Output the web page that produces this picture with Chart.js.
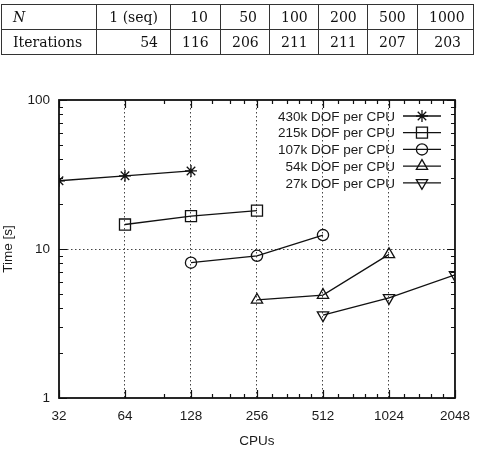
<!DOCTYPE html>
<html>
<head>
<meta charset="utf-8">
<script src="https://cdn.jsdelivr.net/npm/chart.js@4/dist/chart.umd.min.js"></script>
<style>
  html, body { margin: 0; padding: 0; background: #fff; }
  #wrap { position: relative; width: 480px; height: 450px; }
  #c { position: absolute; left: 0; top: 0; }
  #tbl {
    position: absolute; left: 1px; top: 4px; width: 472px;
    border-collapse: collapse; table-layout: fixed;
    font-family: "DejaVu Serif", serif; font-size: 14px; color: #111;
  }
  #tbl td {
    border: 1.5px solid #333; height: 24px; padding: 0 12px 0 11px;
    text-align: right; white-space: nowrap; overflow: hidden;
  }
  #tbl td:first-child { text-align: left; }
  #tbl tr:first-child td:first-child { font-style: italic; }
</style>
</head>
<body>
<div id="wrap">
  <canvas id="c" width="480" height="450"></canvas>
  <table id="tbl">
    <colgroup>
      <col style="width:95px"><col style="width:74px"><col style="width:50px"><col style="width:49px">
      <col style="width:49px"><col style="width:49px"><col style="width:50px"><col style="width:56px">
    </colgroup>
    <tbody></tbody>
  </table>
</div>
<script>
// ---- Table data ----
const tableRowLabels = ['N', 'Iterations'];
const tableN = ['1 (seq)', '10', '50', '100', '200', '500', '1000'];
const tableIterations = [54, 116, 206, 211, 211, 207, 203];

// ---- Chart data ----
const seriesLabels = ['430k DOF per CPU', '215k DOF per CPU', '107k DOF per CPU', '54k DOF per CPU', '27k DOF per CPU'];
const cpus430 = [32, 64, 128];
const time430 = [28.7, 31.0, 33.4];
const cpus215 = [64, 128, 256];
const time215 = [14.6, 16.6, 18.1];
const cpus107 = [128, 256, 512];
const time107 = [8.1, 9.0, 12.4];
const cpus54 = [256, 512, 1024];
const time54 = [4.55, 4.9, 9.2];
const cpus27 = [512, 1024, 2048];
const time27 = [3.6, 4.7, 6.7];

// ---- Tick labels ----
const xTickValues = [32, 64, 128, 256, 512, 1024, 2048];
const xTickLabels = ['32', '64', '128', '256', '512', '1024', '2048'];
const xMinorTicks = [96, 160, 192, 224, 300, 350, 400, 450, 600, 700, 800, 900, 1200, 1400, 1600, 1800];
const yTickValues = [1, 10, 100];
const yTickLabels = ['1', '10', '100'];
const yMinorTicks = [2, 3, 4, 5, 6, 7, 8, 9, 20, 30, 40, 50, 60, 70, 80, 90];

// Build table
const tbody = document.querySelector('#tbl tbody');
[[tableRowLabels[0]].concat(tableN), [tableRowLabels[1]].concat(tableIterations)].forEach(row => {
  const tr = document.createElement('tr');
  row.forEach(v => { const td = document.createElement('td'); td.textContent = v; tr.appendChild(td); });
  tbody.appendChild(tr);
});

const FONT = '"Liberation Sans", Arial, sans-serif';
const FS = 13.5;
const INK = '#111';

const pairs = (xs, ys) => xs.map((x, i) => ({ x: x, y: ys[i] }));
const mk = (i, xs, ys, style, radius, rot) => ({
  label: seriesLabels[i],
  data: pairs(xs, ys),
  borderColor: INK, borderWidth: 1.3,
  backgroundColor: 'rgba(0,0,0,0)',
  pointStyle: style, pointRadius: radius, pointRotation: rot || 0,
  pointBorderColor: INK, pointBackgroundColor: 'rgba(0,0,0,0)', pointBorderWidth: 1.3,
  tension: 0
});

const gnuplotFrame = {
  id: 'gnuplotFrame',
  afterDraw(chart) {
    const { ctx, chartArea: a, scales } = chart;
    const xs = scales.x, ys = scales.y;
    ctx.save();
    ctx.strokeStyle = INK; ctx.lineWidth = 1.2;
    ctx.beginPath();
    const tick = (vals, len, isX) => {
      vals.forEach(v => {
        if (isX) {
          const p = Math.round(xs.getPixelForValue(v)) + 0.5;
          ctx.moveTo(p, a.bottom); ctx.lineTo(p, a.bottom - len);
          ctx.moveTo(p, a.top); ctx.lineTo(p, a.top + len);
        } else {
          const p = Math.round(ys.getPixelForValue(v)) + 0.5;
          ctx.moveTo(a.left, p); ctx.lineTo(a.left + len, p);
          ctx.moveTo(a.right, p); ctx.lineTo(a.right - len, p);
        }
      });
    };
    tick(xTickValues, 8, true);
    tick(xMinorTicks, 4, true);
    tick(yTickValues, 8, false);
    tick(yMinorTicks, 4, false);
    ctx.stroke();
    ctx.lineWidth = 1.8;
    ctx.strokeRect(a.left, a.top, a.right - a.left, a.bottom - a.top);
    ctx.restore();
  }
};

const gnuplotLegend = {
  id: 'gnuplotLegend',
  afterDatasetsDraw(chart) {
    const { ctx, chartArea: a } = chart;
    const textRight = a.right - 60, l0 = a.right - 52, l1 = a.right - 14;
    chart.data.datasets.forEach((ds, i) => {
      const y = a.top + 16 + i * 16.7;
      ctx.save();
      ctx.font = FS + 'px ' + FONT;
      ctx.fillStyle = '#1a1a1a';
      ctx.textAlign = 'right'; ctx.textBaseline = 'middle';
      ctx.fillText(ds.label, textRight, y + 1);
      ctx.strokeStyle = INK; ctx.lineWidth = 1.3;
      ctx.beginPath(); ctx.moveTo(l0, y); ctx.lineTo(l1, y); ctx.stroke();
      ctx.fillStyle = 'rgba(0,0,0,0)';
      Chart.helpers.drawPoint(ctx, {
        pointStyle: ds.pointStyle, radius: ds.pointRadius, rotation: ds.pointRotation,
        borderWidth: ds.pointBorderWidth
      }, (l0 + l1) / 2, y);
      ctx.restore();
    });
  }
};

const labelFor = (vals, labels) => (v) => {
  const i = vals.indexOf(v);
  return i >= 0 ? labels[i] : '';
};

new Chart(document.getElementById('c'), {
  type: 'line',
  data: {
    datasets: [
      mk(0, cpus430, time430, 'star', 6),
      mk(1, cpus215, time215, 'rect', 7.8),
      mk(2, cpus107, time107, 'circle', 5.6),
      mk(3, cpus54, time54, 'triangle', 6.5),
      mk(4, cpus27, time27, 'triangle', 6.5, 180)
    ]
  },
  options: {
    responsive: false,
    animation: false,
    events: [],
    layout: { padding: { top: 100, right: 21, left: 0, bottom: 0 } },
    plugins: { legend: { display: false }, tooltip: { enabled: false } },
    scales: {
      x: {
        type: 'logarithmic', min: 32, max: 2048,
        afterBuildTicks: (s) => { s.ticks = xTickValues.map(v => ({ value: v })); },
        afterFit: (s) => { s.height = 52; },
        ticks: {
          autoSkip: false, maxRotation: 0, padding: 10,
          color: '#1a1a1a', font: { family: FONT, size: FS },
          callback: labelFor(xTickValues, xTickLabels)
        },
        grid: {
          drawTicks: false,
          color: (c) => (c.tick && c.tick.value > 32 && c.tick.value < 2048) ? '#444' : 'rgba(0,0,0,0)',
          lineWidth: 1
        },
        border: { display: false, dash: [1.5, 2.5] },
        title: { display: true, text: 'CPUs', color: '#1a1a1a', font: { family: FONT, size: FS }, padding: { top: 0, bottom: 1 } }
      },
      y: {
        type: 'logarithmic', min: 1, max: 100,
        afterBuildTicks: (s) => { s.ticks = yTickValues.map(v => ({ value: v })); },
        afterFit: (s) => { s.width = 59; },
        ticks: {
          autoSkip: false, padding: 9,
          color: '#1a1a1a', font: { family: FONT, size: FS },
          callback: labelFor(yTickValues, yTickLabels)
        },
        grid: {
          drawTicks: false,
          color: (c) => (c.tick && c.tick.value === 10) ? '#444' : 'rgba(0,0,0,0)',
          lineWidth: 1
        },
        border: { display: false, dash: [1.5, 2.5] },
        title: { display: true, text: 'Time [s]', color: '#1a1a1a', font: { family: FONT, size: FS }, padding: { top: 0, bottom: 0 } }
      }
    }
  },
  plugins: [gnuplotFrame, gnuplotLegend]
});
</script>
</body>
</html>
